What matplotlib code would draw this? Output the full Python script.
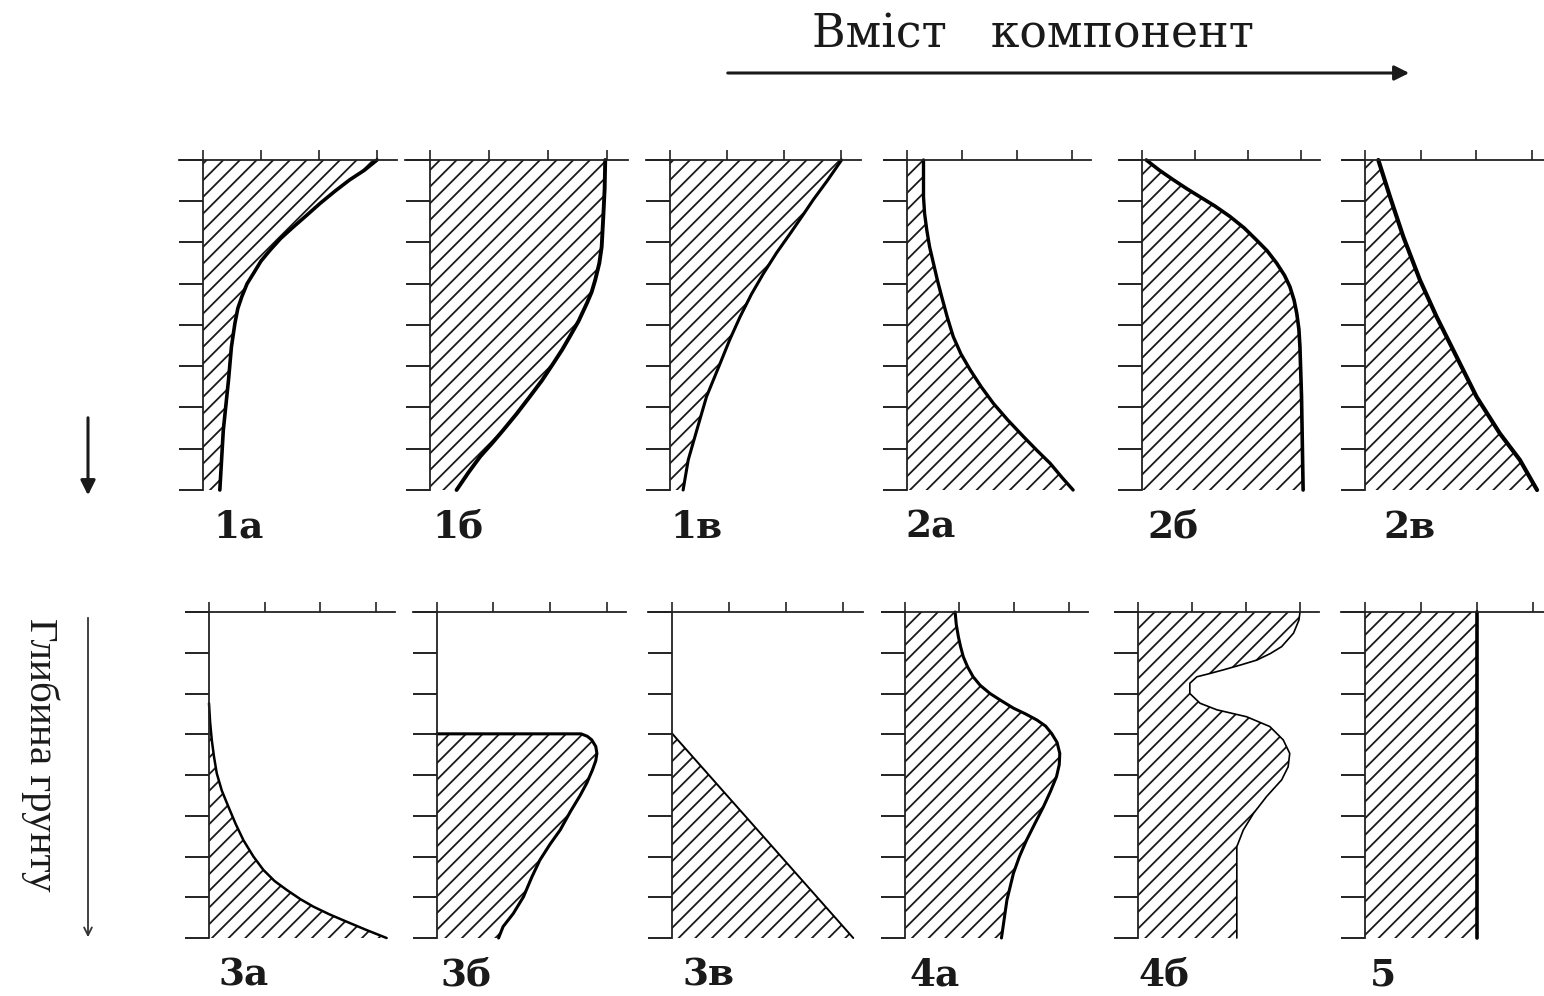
import matplotlib
matplotlib.use("Agg")
import matplotlib.pyplot as plt

W, H = 1544, 996
DPI = 100
plt.rcParams['hatch.linewidth'] = 1.3
plt.rcParams['hatch.color'] = '#1a1a1a'

# ---------------- data (depth in tick units 0..8, content in tick units 0..3) ----------------
labels = ['1а', '1б', '1в', '2а', '2б', '2в', '3а', '3б', '3в', '4а', '4б', '5']

depth_1a = [0.0, 0.25, 0.48, 0.75, 1.05, 1.35, 1.62, 1.9, 2.18, 2.45, 2.75, 3.0, 3.31, 3.6, 3.96, 4.53, 5.33, 6.55, 8.0]
value_1a = [3.0, 2.78, 2.53, 2.28, 2.02, 1.78, 1.56, 1.34, 1.16, 1.0, 0.87, 0.76, 0.67, 0.6, 0.55, 0.49, 0.44, 0.35, 0.29]

depth_1b = [0.0, 0.7, 1.29, 2.1, 2.5, 2.91, 3.2, 3.47, 3.9, 4.28, 4.6, 4.93, 5.34, 5.74, 6.15, 6.55, 6.87, 7.19, 7.58, 8.0]
value_1b = [2.97, 2.96, 2.94, 2.91, 2.87, 2.8, 2.74, 2.66, 2.52, 2.37, 2.24, 2.09, 1.9, 1.69, 1.47, 1.24, 1.05, 0.85, 0.65, 0.45]

depth_1v = [0.0, 0.5, 0.97, 1.38, 1.78, 2.25, 2.75, 3.25, 3.8, 4.35, 4.93, 5.74, 6.55, 7.27, 8.0]
value_1v = [3.01, 2.76, 2.51, 2.31, 2.11, 1.87, 1.64, 1.43, 1.23, 1.05, 0.88, 0.64, 0.47, 0.32, 0.23]

depth_2a = [0.0, 0.89, 1.3, 1.7, 2.1, 2.5, 2.9, 3.31, 3.8, 4.28, 4.7, 5.09, 5.5, 5.9, 6.3, 6.71, 7.05, 7.35, 7.7, 8.0]
value_2a = [0.3, 0.3, 0.32, 0.36, 0.41, 0.48, 0.55, 0.63, 0.73, 0.84, 0.98, 1.15, 1.35, 1.57, 1.83, 2.12, 2.37, 2.6, 2.82, 3.02]

depth_2b = [0.0, 0.25, 0.48, 0.7, 0.89, 1.12, 1.37, 1.65, 1.94, 2.2, 2.5, 2.8, 3.07, 3.4, 3.72, 4.1, 4.53, 5.74, 8.0]
value_2b = [0.08, 0.33, 0.59, 0.85, 1.09, 1.38, 1.66, 1.93, 2.16, 2.36, 2.54, 2.69, 2.79, 2.87, 2.92, 2.96, 2.98, 3.01, 3.04]

depth_2v = [0.0, 0.89, 1.86, 2.91, 3.8, 4.77, 5.74, 6.63, 7.27, 8.0]
value_2v = [0.24, 0.45, 0.69, 0.99, 1.29, 1.65, 2.01, 2.43, 2.79, 3.1]

depth_3a = [0.0, 2.24, 2.7, 3.14, 3.55, 3.96, 4.38, 4.78, 5.2, 5.6, 6.0, 6.33, 6.6, 6.82, 7.05, 7.23, 7.42, 7.6, 7.8, 8.0]
value_3a = [0.0, 0.0, 0.02, 0.05, 0.09, 0.14, 0.23, 0.35, 0.48, 0.62, 0.8, 0.98, 1.18, 1.4, 1.65, 1.88, 2.17, 2.48, 2.83, 3.2]

depth_3b = [0.0, 2.99, 2.99, 3.05, 3.14, 3.3, 3.47, 3.65, 3.88, 4.2, 4.51, 4.9, 5.35, 5.7, 6.09, 6.5, 6.99, 7.4, 7.72, 8.0]
value_3b = [0.0, 0.0, 2.55, 2.66, 2.74, 2.81, 2.83, 2.81, 2.75, 2.65, 2.53, 2.36, 2.18, 2.0, 1.82, 1.68, 1.53, 1.35, 1.17, 1.09]

depth_3v = [0.0, 2.98, 8.0]
value_3v = [0.0, 0.0, 3.18]

depth_4a = [0.0, 0.3, 0.61, 0.85, 1.1, 1.35, 1.59, 1.8, 2.0, 2.18, 2.36, 2.5, 2.65, 2.8, 2.98, 3.2, 3.47, 3.75, 4.04, 4.4, 4.78, 5.2, 5.6, 6.0, 6.41, 7.07, 8.0]
value_4a = [0.92, 0.94, 0.98, 1.02, 1.07, 1.15, 1.25, 1.38, 1.56, 1.77, 1.99, 2.21, 2.42, 2.58, 2.69, 2.79, 2.84, 2.83, 2.78, 2.67, 2.54, 2.38, 2.23, 2.1, 1.99, 1.87, 1.77]

depth_4b = [0.0, 0.2, 0.52, 0.85, 1.02, 1.18, 1.3, 1.42, 1.52, 1.59, 1.75, 2.0, 2.24, 2.4, 2.57, 2.81, 3.14, 3.47, 3.8, 4.12, 4.53, 4.94, 5.35, 5.76, 6.0, 8.0]
value_4b = [3.0, 2.98, 2.88, 2.66, 2.45, 2.2, 1.9, 1.58, 1.3, 1.09, 0.96, 0.96, 1.15, 1.46, 2.01, 2.44, 2.69, 2.81, 2.78, 2.66, 2.38, 2.14, 1.95, 1.83, 1.83, 1.83]

depth_5 = [0.0, 8.0]
value_5 = [2.0, 2.0]

profiles = [(depth_1a, value_1a), (depth_1b, value_1b), (depth_1v, value_1v),
            (depth_2a, value_2a), (depth_2b, value_2b), (depth_2v, value_2v),
            (depth_3a, value_3a), (depth_3b, value_3b), (depth_3v, value_3v),
            (depth_4a, value_4a), (depth_4b, value_4b), (depth_5, value_5)]

depth_ticks = list(range(0, 9))
content_ticks = [0, 1, 2, 3]

# ---------------- layout (pixels) ----------------
origin_x = [203, 430, 670, 907, 1142, 1365, 209, 437, 672, 905, 1138, 1365]
unit_x = [58, 59, 57, 55, 53, 55.5, 55.5, 56.5, 57, 54.5, 54, 56]
row_top = [160, 612]
row_bot = [490, 938]
curve_lw = [2.6, 2.8, 2.2, 2.4, 2.6, 3.0, 1.8, 2.2, 1.4, 2.2, 1.2, 2.6]
label_dx = [10, 2, 0, -2, 5, 18, 9, 3, 10, 5, 0, 5]
line_start = [0, 0, 0, 0, 0, 0, 1, 1, 1, 0, 0, 0]

fig = plt.figure(figsize=(W / DPI, H / DPI), dpi=DPI)
fig.patch.set_facecolor('white')

XMIN, XMAX = -0.42, 3.35
for i, (d, v) in enumerate(profiles):
    row = i // 6
    ox, u = origin_x[i], unit_x[i]
    left = ox + XMIN * u
    right = ox + XMAX * u
    top, bot = row_top[row], row_bot[row]
    ax = fig.add_axes([left / W, 1 - bot / H, (right - left) / W, (bot - top) / H])
    ax.set_xlim(XMIN, XMAX)
    ax.set_ylim(8, 0)
    ax.patch.set_alpha(0)
    ax.spines['right'].set_visible(False)
    ax.spines['bottom'].set_visible(False)
    ax.spines['left'].set_position(('data', 0))
    for s in ('left', 'top'):
        ax.spines[s].set_linewidth(1.3)
        ax.spines[s].set_color('#222222')
    ax.xaxis.tick_top()
    ax.set_xticks(content_ticks)
    ax.set_yticks(depth_ticks)
    ax.tick_params(axis='x', direction='out', length=7, width=1.2, color='#222222',
                   labeltop=False, labelbottom=False)
    ax.tick_params(axis='y', direction='out', length=17, width=1.4, color='#222222',
                   labelleft=False)
    ax.fill_betweenx(d, 0, v, hatch='//', facecolor='none', edgecolor='#1a1a1a', linewidth=0)
    s = line_start[i]
    ax.plot(v[s:], d[s:], color='black', lw=curve_lw[i], solid_capstyle='round',
            solid_joinstyle='round', clip_on=False)
    ax.text(label_dx[i] / u, 8.9, labels[i], fontsize=27, fontweight='bold',
            family='DejaVu Serif', va='center', ha='left', clip_on=False, color='#1a1a1a')

# ---------------- titles & arrows ----------------
def fx(px):
    return px / W

def fy(py):
    return 1 - py / H

fig.text(fx(1033), fy(35), 'Вміст   компонент', family='DejaVu Serif', fontsize=33,
         ha='center', va='center', color='#1a1a1a')
fig.add_artist(matplotlib.patches.FancyArrowPatch((fx(725), fy(73)), (fx(1412), fy(73)),
               transform=fig.transFigure, arrowstyle='-|>', mutation_scale=22,
               color='#1a1a1a', lw=2.2))

fig.text(fx(40), fy(755), 'Глибина грунту', family='Liberation Serif', fontsize=29.5,
         rotation=-90, ha='center', va='center', color='#1a1a1a')
fig.add_artist(matplotlib.patches.FancyArrowPatch((fx(88), fy(415)), (fx(88), fy(498)),
               transform=fig.transFigure, arrowstyle='-|>', mutation_scale=22,
               color='#1a1a1a', lw=2.2))
fig.add_artist(matplotlib.patches.FancyArrowPatch((fx(88), fy(615)), (fx(88), fy(940)),
               transform=fig.transFigure, arrowstyle='->', mutation_scale=14,
               color='#333333', lw=1.3))

fig.savefig('out.png', dpi=DPI, facecolor='white')
